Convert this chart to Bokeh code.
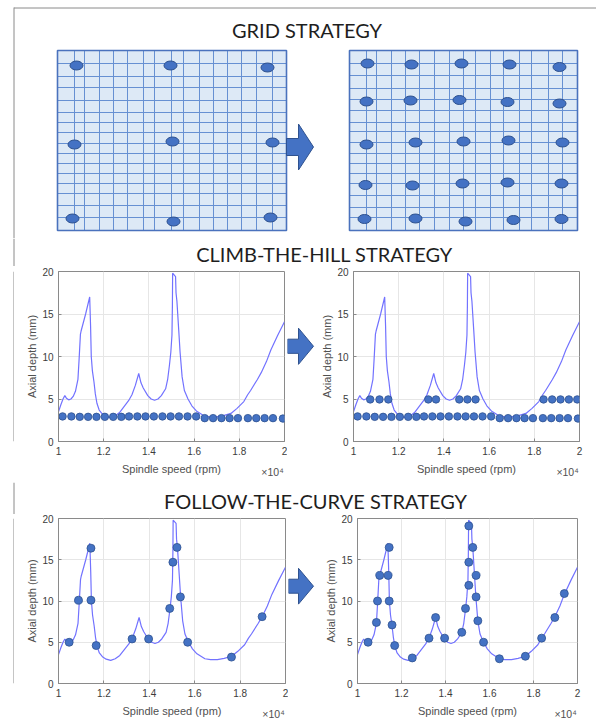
from bokeh.plotting import figure
from bokeh.layouts import column, row
from bokeh.models import Range1d, FixedTicker, LinearAxis
from bokeh.core.properties import value
from bokeh.embed import file_html
from bokeh.resources import INLINE

# ---------------- data ----------------
section_titles = ["GRID STRATEGY", "CLIMB-THE-HILL STRATEGY", "FOLLOW-THE-CURVE STRATEGY"]

# stability lobe curve (spindle speed rpm, axial depth mm)
curve_speed = [10000, 10100, 10200, 10280, 10350, 10450, 10550, 10650, 10750, 10860, 10910, 10970,
               11000, 11200, 11380, 11420, 11450, 11500, 11570, 11630, 11700, 11800, 11950, 12100,
               12300, 12500, 12700, 12900, 13100, 13250, 13400, 13550, 13650, 13750, 13950, 14100,
               14250, 14400, 14550, 14740, 14830, 14910, 14970, 15020, 15040, 15050, 15180, 15200,
               15240, 15320, 15380, 15470, 15570, 15730, 15900, 16100, 16450, 16700, 17000, 17300,
               17630, 17900, 18200, 18370, 18500, 18800, 18970, 19200, 19400, 19700, 20000]
curve_depth = [3.5, 4.3, 5.0, 5.4, 5.1, 4.9, 5.0, 5.3, 5.9, 7.3, 9.6, 12.6,
               13.0, 15.0, 17.0, 13.5, 10.0, 8.3, 7.0, 5.6, 4.5, 3.7, 3.2, 2.95,
               2.8, 3.0, 3.4, 4.1, 4.8, 5.5, 6.6, 8.0, 6.9, 6.3, 5.4, 5.0,
               4.85, 5.0, 5.4, 6.2, 7.3, 9.0, 10.5, 12.5, 16.0, 19.8, 19.4, 17.5,
               16.5, 13.1, 10.5, 7.6, 6.0, 5.0, 4.2, 3.6, 3.0, 2.9, 2.9, 3.05,
               3.3, 3.9, 4.7, 5.5, 6.0, 7.3, 8.1, 9.4, 10.8, 12.5, 14.1]

# climb-the-hill test points
climb_base_speed = [10180, 10570, 10940, 11310, 11680, 12050, 12420, 12780, 13120, 13490, 13850, 14220,
                    14600, 14960, 15330, 15710, 16090, 16470, 16840, 17210, 17570, 17940, 18380, 18750,
                    19120, 19490, 19930]
climb_base_depth = [2.95, 2.95, 2.9, 2.9, 2.9, 2.9, 2.9, 2.9, 2.95, 2.95, 2.95, 2.95,
                    2.95, 2.95, 2.95, 2.95, 2.95, 2.75, 2.75, 2.75, 2.75, 2.75, 2.75, 2.75,
                    2.75, 2.75, 2.7]
climb_up_speed = [10740, 11150, 11540, 13310, 13650, 14680, 15040, 15400, 18410, 18790, 19160, 19530, 19900]
climb_up_depth = [4.95, 4.95, 4.95, 4.95, 4.95, 4.95, 4.95, 4.95, 4.95, 4.95, 4.95, 4.95, 4.95]

# follow-the-curve test points
follow_l_speed = [10470, 10880, 11430, 11430, 11660, 13240, 13970, 14900, 15040, 15220, 15370, 15690, 17620, 18970]
follow_l_depth = [5.0, 10.1, 16.4, 10.1, 4.6, 5.4, 5.4, 9.1, 14.7, 16.5, 10.5, 5.0, 3.2, 8.1]
follow_r_speed = [10480, 10860, 10910, 11010, 11440, 11390, 11440, 11570, 11690, 12490, 13250, 13550,
                  13960, 14740, 14910, 15060, 15060, 15060, 15240, 15390, 15390, 15470, 15730, 16450,
                  17630, 18370, 18970, 19400]
follow_r_depth = [5.0, 7.4, 10.0, 13.1, 16.5, 13.1, 10.0, 7.1, 4.6, 3.1, 5.5, 8.0,
                  5.5, 6.2, 9.1, 11.9, 14.7, 19.1, 16.5, 13.1, 10.5, 7.6, 5.0, 3.0,
                  3.3, 5.5, 8.0, 10.9]

x_ticks = [10000, 12000, 14000, 16000, 18000, 20000]
x_tick_labels = ["1", "1.2", "1.4", "1.6", "1.8", "2"]
x_exponent_label = "×10⁴"
y_ticks = [0, 5, 10, 15, 20]

# grid-strategy illustration (offsets inside each panel)
gridL_vlines = [17, 27, 42, 56, 70, 86, 97, 114, 126, 142, 156, 170, 184, 199, 215]
gridL_hlines = [13, 26, 37, 50, 62, 72, 82, 93, 103, 113, 123, 133, 143, 155, 167]
gridL_dot_x = [19, 113, 210, 17, 115, 215, 15, 116, 213]
gridL_dot_y = [15, 15, 17, 94, 91, 92, 168, 171, 167]
gridR_vlines = [17, 27, 42, 56, 70, 85, 100, 114, 126, 141, 154, 170, 182, 199, 213]
gridR_hlines = [13, 25, 38, 49, 60, 72, 81, 92, 103, 113, 123, 133, 145, 157, 167]
gridR_dot_x = [18, 62, 112, 160, 210, 17, 61, 110, 158, 210, 17, 66, 114, 159, 213,
               16, 63, 113, 158, 212, 15, 66, 116, 164, 212]
gridR_dot_y = [13, 14, 13, 14, 16.5, 51, 50, 49.5, 51.5, 53, 94, 92, 91, 90, 92,
               134.5, 135, 133, 132, 133, 168.5, 168, 171, 169.5, 168.5]

# ---------------- styles ----------------
BLUE = "#4472c4"
EDGE = "#2f528f"
BORDER = "#8a8a8a"
TITLE_FONT = "Lato"
AX_FONT = "Liberation Sans"


def page_fig(x0, x1, y0, y1):
    p = figure(width=x1 - x0, height=y1 - y0, x_range=Range1d(x0, x1), y_range=Range1d(y1, y0),
               x_axis_type=None, y_axis_type=None, toolbar_location=None,
               output_backend="svg", min_border=0)
    p.outline_line_color = None
    p.background_fill_color = "white"
    p.border_fill_color = "white"
    return p


def left_border(p, y0, y1):
    p.segment(x0=[13.5], y0=[y0], x1=[13.5], y1=[y1], line_color=BORDER, line_width=1)


def title(p, x, y, txt):
    p.text(x=[x], y=[y], text=[txt], text_font=value(TITLE_FONT), text_font_size="20px",
           text_align="center", text_baseline="middle", text_color="#1e1e1e")


def arrow(p, x_start, x_neck, x_tip, yc, shaft_half=8.5, head_half=23):
    xs = [x_start, x_neck, x_neck, x_tip, x_neck, x_neck, x_start]
    ys = [yc - shaft_half, yc - shaft_half, yc - head_half, yc, yc + head_half,
          yc + shaft_half, yc + shaft_half]
    p.patch(xs, ys, fill_color=BLUE, line_color=EDGE, line_width=1)


def panel(p, x0, y0, w, h, vlines, hlines, dx, dy):
    p.quad(left=[x0], right=[x0 + w], top=[y0], bottom=[y0 + h], fill_color="#dde9f6", line_color=None)
    xs = [x0 + v for v in vlines]
    p.segment(x0=xs, y0=[y0] * len(xs), x1=xs, y1=[y0 + h] * len(xs), line_color="#6690d2", line_width=1)
    ys = [y0 + v for v in hlines]
    p.segment(x0=[x0] * len(ys), y0=ys, x1=[x0 + w] * len(ys), y1=ys, line_color="#6690d2", line_width=1)
    p.quad(left=[x0], right=[x0 + w], top=[y0], bottom=[y0 + h], fill_color=None,
           line_color="#4a72bd", line_width=1.6)
    p.ellipse(x=[x0 + a for a in dx], y=[y0 + b for b in dy], width=13, height=9,
              width_units="screen", height_units="screen",
              fill_color=BLUE, line_color=EDGE, line_width=1)


def lobe_fig(width, height, bl, br, bt, bb):
    p = figure(width=width, height=height, x_range=Range1d(10000, 20000), y_range=Range1d(0, 20),
               toolbar_location=None, output_backend="svg",
               min_border_left=bl, min_border_right=br, min_border_top=bt, min_border_bottom=bb)
    p.background_fill_color = "white"
    p.border_fill_color = "white"
    p.outline_line_color = BORDER
    p.grid.grid_line_color = "#e6e6e6"
    p.xaxis.ticker = FixedTicker(ticks=x_ticks)
    p.yaxis.ticker = FixedTicker(ticks=y_ticks)
    p.xaxis.major_label_overrides = {t: l for t, l in zip(x_ticks, x_tick_labels)}
    p.xaxis.axis_label = "Spindle speed (rpm)"
    p.yaxis.axis_label = "Axial depth (mm)"
    for ax in (p.xaxis[0], p.yaxis[0]):
        ax.major_tick_in = 3
        ax.major_tick_out = 0
        ax.minor_tick_line_color = None
        ax.axis_line_color = BORDER
        ax.major_tick_line_color = BORDER
        ax.major_label_text_font = AX_FONT
        ax.major_label_text_font_size = "10px"
        ax.major_label_text_color = "#3c3c3c"
        ax.major_label_standoff = 5
        ax.axis_label_text_font = AX_FONT
        ax.axis_label_text_font_size = "11px"
        ax.axis_label_text_font_style = "normal"
        ax.axis_label_text_color = "#505050"
    p.xaxis.axis_label_standoff = 5
    p.yaxis.axis_label_standoff = 1
    p.line(curve_speed, curve_depth, line_color="#7272ff", line_width=1.2)

    # exponent "×10⁴" at the right end, level with the axis title
    frame_w = width - bl - br
    pos = int(round(x_ticks[-1] - 12 * (x_ticks[-1] - x_ticks[0]) / frame_w))
    exp_axis = LinearAxis(ticker=FixedTicker(ticks=[pos]), major_label_overrides={pos: x_exponent_label})
    exp_axis.axis_line_color = None
    exp_axis.major_tick_line_color = None
    exp_axis.minor_tick_line_color = None
    exp_axis.major_label_standoff = -18
    exp_axis.major_label_text_font = AX_FONT
    exp_axis.major_label_text_font_size = "10.5px"
    exp_axis.major_label_text_color = "#505050"
    p.add_layout(exp_axis, "below")
    return p


def dots(p, xs, ys, size=8):
    p.scatter(xs, ys, size=size, fill_color=BLUE, line_color=EDGE, line_width=0.8)


W = 596

# ---------------- top: grid strategy ----------------
top = page_fig(0, W, 0, 238)
left_border(top, 7, 238)
top.segment(x0=[13.5], y0=[7.5], x1=[W], y1=[7.5], line_color=BORDER, line_width=1)
title(top, 306.5, 29, section_titles[0])
panel(top, 57, 50, 229, 180, gridL_vlines, gridL_hlines, gridL_dot_x, gridL_dot_y)
panel(top, 349, 50, 228, 180, gridR_vlines, gridR_hlines, gridR_dot_x, gridR_dot_y)
arrow(top, 286, 298, 313, 146.5)

# ---------------- climb-the-hill ----------------
t2 = page_fig(0, W, 238, 266)
left_border(t2, 238, 266)
title(t2, 324, 253.5, section_titles[1])

s2 = page_fig(0, 14, 266, 482)
left_border(s2, 266, 482)
climbL = lobe_fig(273, 216, 44, 3, 3, 41)
dots(climbL, climb_base_speed, climb_base_depth, 7.5)
a2 = page_fig(287, 318, 266, 482)
arrow(a2, 287, 298, 313, 361, 9, 23)
climbR = lobe_fig(278, 216, 34, 17, 5, 36)
dots(climbR, climb_base_speed, climb_base_depth, 7.5)
dots(climbR, climb_up_speed, climb_up_depth, 7.5)

# ---------------- follow-the-curve ----------------
t3 = page_fig(0, W, 482, 514)
left_border(t3, 482, 514)
title(t3, 315, 500.5, section_titles[2])

s3 = page_fig(0, 14, 514, 726)
left_border(s3, 514, 726)
followL = lobe_fig(274, 212, 44, 3, 4, 41)
dots(followL, follow_l_speed, follow_l_depth)
a3 = page_fig(288, 322, 514, 726)
arrow(a3, 288, 298, 313, 601, 9, 23)
followR = lobe_fig(274, 212, 34, 19, 3, 43)
dots(followR, follow_r_speed, follow_r_depth)

layout = column(top, t2, row(s2, climbL, a2, climbR), t3, row(s3, followL, a3, followR))

open("out.html", "w").write(file_html(layout, INLINE))
